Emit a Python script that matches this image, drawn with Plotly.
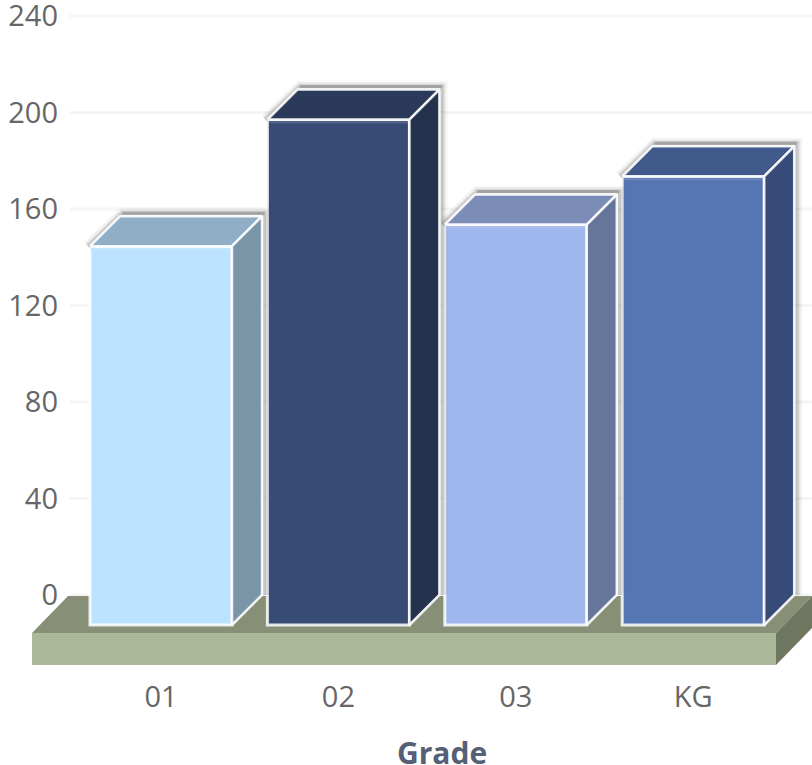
import plotly.graph_objects as go

# Chart data
grades = ["01", "02", "03", "KG"]
students = [157, 209.5, 166, 186]
y_ticks = [0, 40, 80, 120, 160, 200, 240]

# Face colours per column
front_colors = ["#BBE3FF", "#384B74", "#9FB7EC", "#5575B3"]
top_colors = ["#90AFC6", "#2B3A5B", "#7C8DB8", "#42598C"]
side_colors = ["#7A95A8", "#24324E", "#65769A", "#364B77"]

WIDTH, HEIGHT = 812, 765
PX_PER_UNIT_Y = 2.4125
PX_PER_CAT = 177.4
ZERO_PX_Y = 595
FIRST_CAT_PX = 161

# Extrusion of the columns and of the floor, in axis units
DX = 30 / PX_PER_CAT
DY = 30 / PX_PER_UNIT_Y
BAR_W = 142 / PX_PER_CAT
FRONT_BASE = -(625 - ZERO_PX_Y) / PX_PER_UNIT_Y


def x_at(px):
    return (px - FIRST_CAT_PX) / PX_PER_CAT


def y_at(px):
    return (ZERO_PX_Y - px) / PX_PER_UNIT_Y


def poly(xs, ys):
    return "M" + " L".join(f"{a},{b}" for a, b in zip(xs, ys)) + " Z"


def add_line(xs, ys, color, width):
    fig.add_trace(go.Scatter(x=xs, y=ys, mode="lines", line=dict(color=color, width=width),
                             hoverinfo="skip", showlegend=False))


fig = go.Figure()

# Soft drop shadow behind each extruded column
for i, v in enumerate(students):
    left, right = i - BAR_W / 2, i + BAR_W / 2
    top = FRONT_BASE + v
    sx, sy = 2.5 / PX_PER_CAT, 3 / PX_PER_UNIT_Y
    xs = [left - 2 / PX_PER_CAT, left + DX + sx, right + DX + sx, right + DX + sx]
    ys = [top, top + DY + sy, top + DY + sy, FRONT_BASE + DY]
    for width, alpha in [(12, 0.04), (9, 0.06), (6, 0.10), (3.5, 0.18)]:
        add_line(xs, ys, f"rgba(90,90,90,{alpha})", width)
    # The upper edge of the shadow reads as a firm grey line
    add_line(xs[1:3], ys[1:3], "rgba(120,120,120,0.45)", 3)

# Front faces
fig.add_trace(go.Bar(
    x=list(range(len(grades))), y=students, base=FRONT_BASE, width=BAR_W,
    marker=dict(color=front_colors, line=dict(color="rgba(255,255,255,0.85)", width=3)),
    showlegend=False,
))

# Top and side faces, plus a faint highlight under each front top edge
for i, v in enumerate(students):
    left, right = i - BAR_W / 2, i + BAR_W / 2
    top = FRONT_BASE + v
    add_line([left, right], [top - 2.5 / PX_PER_UNIT_Y] * 2, "rgba(255,255,255,0.13)", 3)
    fig.add_trace(go.Scatter(
        x=[left, left + DX, right + DX, right, left],
        y=[top, top + DY, top + DY, top, top],
        mode="lines", fill="toself", fillcolor=top_colors[i],
        line=dict(color="rgba(255,255,255,0.9)", width=2.5),
        hoverinfo="skip", showlegend=False))
    fig.add_trace(go.Scatter(
        x=[right, right + DX, right + DX, right, right],
        y=[top, top + DY, FRONT_BASE + DY, FRONT_BASE, top],
        mode="lines", fill="toself", fillcolor=side_colors[i],
        line=dict(color="rgba(255,255,255,0.9)", width=2.5),
        hoverinfo="skip", showlegend=False))

# Gridlines stop short of the tick labels, then the floor slab sits under the columns
fl, fr = x_at(32), x_at(776)
ftop, fbot = y_at(633), y_at(665)
fdx, fdy = 36 / PX_PER_CAT, 37 / PX_PER_UNIT_Y
shapes = [
    dict(type="line", xref="paper", yref="y", x0=70 / WIDTH, x1=1, y0=t, y1=t,
         line=dict(color="#F5F5F5", width=3), layer="below")
    for t in y_ticks
]
for path, color in [
    (poly([fl, fl + fdx, fr + fdx, fr], [ftop, ftop + fdy, ftop + fdy, ftop]), "#878F76"),
    (poly([fr, fr + fdx, fr + fdx, fr], [ftop, ftop + fdy, fbot + fdy, fbot]), "#6F7761"),
    (poly([fl, fr, fr, fl], [ftop, ftop, fbot, fbot]), "#ABB899"),
]:
    shapes.append(dict(type="path", xref="x", yref="y", path=path, fillcolor=color,
                       line=dict(width=0), layer="below"))

fig.update_layout(
    width=WIDTH, height=HEIGHT, autosize=False,
    margin=dict(l=0, r=0, t=0, b=0, autoexpand=False),
    paper_bgcolor="white", plot_bgcolor="rgba(0,0,0,0)",
    font=dict(family="Open Sans", color="#666666", size=29),
    shapes=shapes,
    barmode="overlay",
    xaxis=dict(
        range=[x_at(0), x_at(WIDTH)], domain=[0, 1], anchor="free", automargin=False,
        position=(HEIGHT - 677) / HEIGHT,
        tickmode="array", tickvals=list(range(len(grades))), ticktext=grades,
        showgrid=False, zeroline=False, showline=False, ticks="",
    ),
    yaxis=dict(
        range=[y_at(HEIGHT), y_at(0)], domain=[0, 1], anchor="free", automargin=False,
        position=58 / WIDTH, ticklabeloverflow="allow",
        tickmode="array", tickvals=y_ticks,
        showgrid=False, zeroline=False, showline=False, ticks="",
    ),
    annotations=[dict(
        text="<b>Grade</b>", xref="paper", yref="paper",
        x=442 / WIDTH, y=(HEIGHT - 752) / HEIGHT, xanchor="center", yanchor="middle",
        showarrow=False, font=dict(family="Open Sans", size=30, color="#555F75"),
    )],
)

fig.write_html("out.html", config=dict(displayModeBar=False))
